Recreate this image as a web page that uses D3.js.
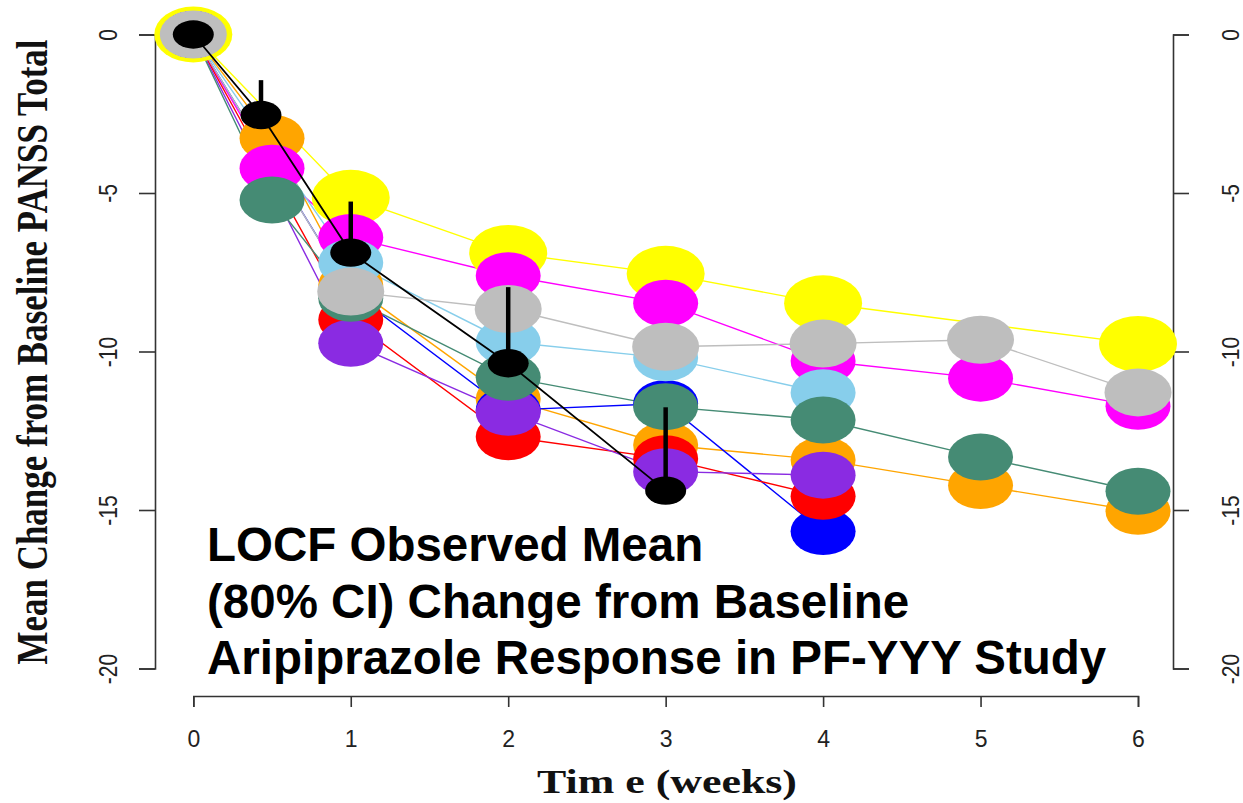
<!DOCTYPE html>
<html><head><meta charset="utf-8">
<script src="https://cdn.jsdelivr.net/npm/d3@7"></script>
<style>html,body{margin:0;padding:0;background:#fff;overflow:hidden}</style>
</head><body>
<svg id="chart" width="1243" height="803"></svg>
<script>
// ---- data ----
const xTicks = [0, 1, 2, 3, 4, 5, 6];
const yTicks = [0, -5, -10, -15, -20];

const yellowT  = [0, 1, 2, 3, 4, 6];
const yellowV  = [0, -5.15, -6.89, -7.55, -8.48, -9.76];
const orangeT  = [0, 0.5, 1, 2, 3, 4, 5, 6];
const orangeV  = [0, -3.27, -7.9, -11.5, -12.95, -13.42, -14.23, -15.04];
const magentaT = [0, 0.5, 1, 2, 3, 4, 5, 6];
const magentaV = [0, -4.22, -6.4, -7.61, -8.48, -10.3, -10.84, -11.73];
const blueT    = [0, 1, 2, 3, 4];
const blueV    = [0, -8.1, -11.85, -11.64, -15.68];
const redT     = [0, 1, 2, 3, 4];
const redV     = [0, -9.0, -12.69, -13.38, -14.57];
const purpleT  = [0, 1, 2, 3, 4];
const purpleV  = [0, -9.74, -11.92, -13.79, -13.9];
const skyT     = [0, 1, 2, 3, 4];
const skyV     = [0, -7.2, -9.7, -10.2, -11.3];
const greenT   = [0, 0.5, 1, 2, 3, 4, 5, 6];
const greenV   = [0, -5.22, -8.32, -10.81, -11.74, -12.16, -13.33, -14.41];
const greyT    = [0, 1, 2, 3, 4, 5, 6];
const greyV    = [0, -8.11, -8.66, -9.85, -9.75, -9.63, -11.29];

const meanT     = [0, 0.43, 1, 2, 3];
const meanV     = [0, -2.54, -6.88, -10.37, -14.39];
const meanUpper = [null, -1.44, -5.27, -7.97, -11.76];

const annotationLines = ["LOCF Observed Mean", "(80% CI) Change from Baseline", "Aripiprazole Response in PF-YYY Study"];

// ---- styling (drawing order bottom -> top) ----
const series = [
  {t: yellowT,  v: yellowV,  color: "#FFFF00", rx: 39,   ry: 28},
  {t: orangeT,  v: orangeV,  color: "#FFA500", rx: 32.5, ry: 23.5},
  {t: magentaT, v: magentaV, color: "#FF00FF", rx: 32.5, ry: 23.5},
  {t: blueT,    v: blueV,    color: "#0000FF", rx: 32.5, ry: 23.5},
  {t: redT,     v: redV,     color: "#FF0000", rx: 32.5, ry: 23.5},
  {t: purpleT,  v: purpleV,  color: "#8A2BE2", rx: 32.5, ry: 23.5},
  {t: skyT,     v: skyV,     color: "#87CEEB", rx: 32.5, ry: 23.5},
  {t: greenT,   v: greenV,   color: "#458B74", rx: 32.5, ry: 23.5},
  {t: greyT,    v: greyV,    color: "#BEBEBE", rx: 33.5, ry: 24}
];

const svg = d3.select("#chart");
const x = d3.scaleLinear().domain([0, 6]).range([193.3, 1138]);
const y = d3.scaleLinear().domain([0, -20]).range([34.5, 668.5]);

const axisColor = "#333";

// left axis
const gL = svg.append("g").attr("transform", "translate(155,0)")
  .call(d3.axisLeft(y).tickValues(yTicks).tickSize(16).tickFormat(d => String(d)));
gL.selectAll("text").attr("x", null).attr("dy", "0.35em")
  .attr("transform", "translate(-47,0) scale(1.2,1) rotate(-90)")
  .attr("text-anchor", "middle");
// right axis
const gR = svg.append("g").attr("transform", "translate(1173,0)")
  .call(d3.axisRight(y).tickValues(yTicks).tickSize(16).tickFormat(d => String(d)));
gR.selectAll("text").attr("x", null).attr("dy", "0.35em")
  .attr("transform", "translate(58,0) scale(1.1,1) rotate(-90)")
  .attr("text-anchor", "middle");
// bottom axis
const gB = svg.append("g").attr("transform", "translate(0,696)")
  .call(d3.axisBottom(x).tickValues(xTicks).tickSize(11).tickFormat(d => String(d)));

[gL, gR, gB].forEach(g => {
  g.select(".domain").attr("stroke", axisColor).attr("stroke-width", 1.6);
  g.selectAll(".tick line").attr("stroke", axisColor).attr("stroke-width", 1.6);
  g.selectAll("text").attr("fill", "#222").style("font-family", "'Liberation Sans', Arial, sans-serif").style("font-size", "21px");
});
gB.selectAll("text").attr("y", 51).attr("dy", null).style("font-size", "23px");

// axis titles
svg.append("text")
  .attr("transform", "translate(47,352) scale(1.25,1) rotate(-90)")
  .attr("text-anchor", "middle")
  .attr("textLength", 625).attr("lengthAdjust", "spacingAndGlyphs")
  .style("font-family", "'Liberation Serif', 'Times New Roman', serif")
  .style("font-weight", "bold").style("font-size", "35px")
  .attr("fill", "#111")
  .text("Mean Change from Baseline PANSS Total");

svg.append("text")
  .attr("x", 667).attr("y", 793)
  .attr("text-anchor", "middle")
  .attr("textLength", 260).attr("lengthAdjust", "spacingAndGlyphs")
  .style("font-family", "'Liberation Serif', 'Times New Roman', serif")
  .style("font-weight", "bold").style("font-size", "34px")
  .attr("fill", "#111")
  .text("Tim e (weeks)");

// colored lines
const line = d3.line().x(d => x(d[0])).y(d => y(d[1]));
const gLines = svg.append("g");
series.forEach(s => {
  gLines.append("path")
    .attr("d", line(s.t.map((t, i) => [t, s.v[i]])))
    .attr("fill", "none").attr("stroke", s.color).attr("stroke-width", 1.4);
});
// colored points
const gPts = svg.append("g");
series.forEach(s => {
  gPts.selectAll(null).data(s.t.map((t, i) => [t, s.v[i]])).enter()
    .append("ellipse")
    .attr("cx", d => x(d[0])).attr("cy", d => y(d[1]))
    .attr("rx", s.rx).attr("ry", s.ry)
    .attr("fill", s.color);
});

// mean line, error bars, points
const meanData = meanT.map((t, i) => [t, meanV[i], meanUpper[i]]);
svg.append("path").attr("d", line(meanData))
  .attr("fill", "none").attr("stroke", "#000").attr("stroke-width", 1.8);
svg.append("g").selectAll("line").data(meanData.filter(d => d[2] !== null)).enter()
  .append("line")
  .attr("x1", d => x(d[0])).attr("x2", d => x(d[0]))
  .attr("y1", d => y(d[1])).attr("y2", d => y(d[2]))
  .attr("stroke", "#000").attr("stroke-width", 4.5);
svg.append("g").selectAll("ellipse").data(meanData).enter()
  .append("ellipse")
  .attr("cx", d => x(d[0])).attr("cy", d => y(d[1]))
  .attr("rx", 20.5).attr("ry", 14.2).attr("fill", "#000");

// annotation
const ann = svg.append("text")
  .style("font-family", "'Liberation Sans', Arial, sans-serif")
  .style("font-weight", "bold").style("font-size", "47.5px").attr("fill", "#000");
annotationLines.forEach((l, i) => {
  ann.append("tspan").attr("x", 207).attr("y", 561 + i * 56.5).text(l);
});
</script>
</body></html>
